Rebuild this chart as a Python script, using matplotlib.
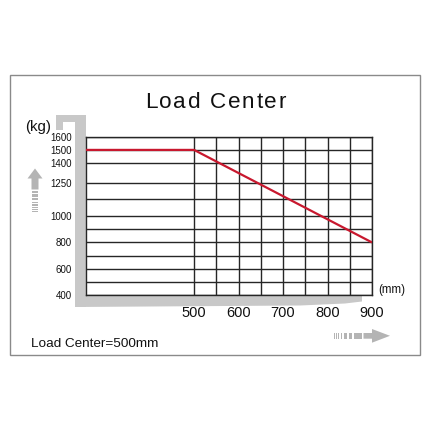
import matplotlib
matplotlib.use("Agg")
import matplotlib.pyplot as plt
from matplotlib.patches import Polygon, Rectangle
from matplotlib import font_manager

# ---- data ----
title = "Load Center"
y_tick_values = [400, 600, 800, 1000, 1250, 1400, 1500, 1600]
y_grid_values = [400, 500, 600, 700, 800, 900, 1000, 1125, 1250, 1400, 1500, 1600]
x_tick_values = [500, 600, 700, 800, 900]
x_grid_values = [500, 550, 600, 650, 700, 750, 800, 850, 900]
load_center_mm = [500, 900]
capacity_kg = [1500, 800]
x_axis_start = 257
note = "Load Center=500mm"

names = {f.name for f in font_manager.fontManager.ttflist}
narrow = "Liberation Sans Narrow" if "Liberation Sans Narrow" in names else "Liberation Sans"
FONT = "Liberation Sans"

W = H = 430
fig = plt.figure(figsize=(4.3, 4.3), dpi=100)
fig.patch.set_facecolor("white")

# overlay axes in pixel coordinates (y downward)
ov = fig.add_axes([0, 0, 1, 1], zorder=0)
ov.set_xlim(0, W)
ov.set_ylim(H, 0)
ov.axis("off")

GRAY = "#c8c8c8"
# outer border
ov.add_patch(Rectangle((9.5, 75), 410.5, 279.5, fill=False, edgecolor="#8a8a8a", lw=1.0))
# gray fork (vertical bar + top hook)
ov.add_patch(Polygon([(56, 114.5), (86, 114.5), (86, 307), (75, 307), (75, 122), (63, 122),
                      (63, 129.5), (56, 129.5)], closed=True, facecolor=GRAY, edgecolor="none"))
# bottom bar
ov.add_patch(Polygon([(75, 295), (362, 295), (362, 301.5), (345, 303.5), (300, 305.5), (75, 307)],
                     closed=True, facecolor=GRAY, edgecolor="none"))

ARROW = "#b4b4b4"
# up arrow
ov.add_patch(Polygon([(35, 168.5), (42.5, 178.5), (38.5, 178.5), (38.5, 189.5), (31.5, 189.5),
                      (31.5, 178.5), (27.5, 178.5)], closed=True, facecolor=ARROW, edgecolor="none"))
for y0, h in [(190.8, 2.4), (194.2, 2.3), (197.6, 2.3), (201.5, 1.5), (204.3, 1.3), (206.8, 1.1),
              (209.0, 1.0), (211.2, 0.9)]:
    ov.add_patch(Rectangle((32, y0), 6.3, h, facecolor=ARROW, edgecolor="none"))
# right arrow
ov.add_patch(Polygon([(390, 335.8), (372, 329), (372, 333), (363.5, 333), (363.5, 338.7),
                      (372, 338.7), (372, 342.7)], closed=True, facecolor=ARROW, edgecolor="none"))
for x0, w in [(333.5, 1.0), (335.8, 1.0), (338.1, 1.1), (340.5, 1.2), (343.5, 3.8), (348.5, 3.8),
              (353.5, 8.5)]:
    ov.add_patch(Rectangle((x0, 333.3), w, 5.2, facecolor=ARROW, edgecolor="none"))

# title with letter tracking
renderer = fig.canvas.get_renderer()
def tracked_text(x_center, y_base, s, size, track_px):
    widths = []
    for ch in s:
        t = ov.text(0, 0, ch if ch != " " else "\u00a0", fontsize=size, family=FONT)
        widths.append(t.get_window_extent(renderer).width)
        t.remove()
    total = sum(widths) + track_px * (len(s) - 1)
    x = x_center - total / 2
    for ch, w in zip(s, widths):
        if ch != " ":
            ov.text(x, y_base, ch, ha="left", va="baseline", fontsize=size, family=FONT, color="#111")
        x += w + track_px

tracked_text(215.3, 108.3, title, 16.2, 1.7)

ov.text(38.3, 127, "(kg)", ha="center", va="center", fontsize=10.8, family=FONT, color="#111")
ov.text(391.3, 290, "(mm)", ha="center", va="center", fontsize=8.3, family=FONT, color="#111")
ov.text(30.7, 347.3, note, ha="left", va="baseline", fontsize=9.7, family=FONT, color="#111")

# chart axes
L, R, T, B = 86, 372, 136.7, 295.3
ax = fig.add_axes([L / W, 1 - B / H, (R - L) / W, (B - T) / H], zorder=1)
ax.patch.set_alpha(0)
ax.set_xlim(x_axis_start, 900)
ax.set_ylim(400, 1600)
for v in y_grid_values:
    ax.axhline(v, color="#262626", lw=1.0, zorder=1)
for v in x_grid_values:
    ax.axvline(v, color="#262626", lw=1.0, zorder=1)
for s in ax.spines.values():
    s.set_color("#262626")
    s.set_linewidth(1.0)

ax.plot([x_axis_start] + load_center_mm, [capacity_kg[0]] + capacity_kg,
        color="#c8182e", lw=1.6, zorder=3, solid_capstyle="butt")

ax.set_yticks(y_tick_values)
ax.set_yticklabels([str(v) for v in y_tick_values], family=narrow, fontsize=7, color="#111")
ax.set_xticks(x_tick_values)
ax.set_xticklabels([str(v) for v in x_tick_values], family=FONT, fontsize=10.5, color="#111")
ax.tick_params(axis="y", length=0, pad=10.3)
ax.tick_params(axis="x", length=0, pad=8)

fig.savefig("out.png", dpi=100, facecolor="white")
